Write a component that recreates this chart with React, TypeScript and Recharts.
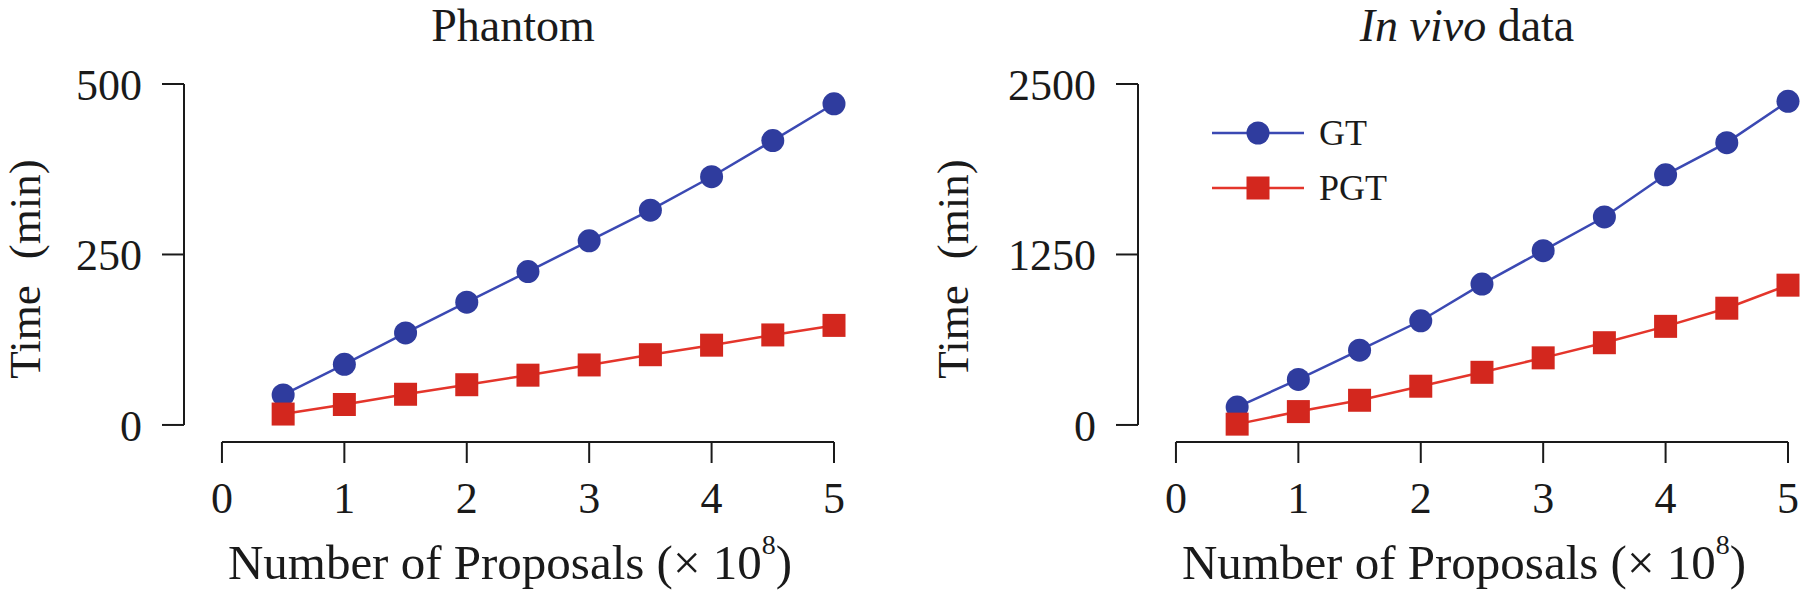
import { LineChart, Line, XAxis, YAxis, ReferenceLine, Legend } from 'recharts'

// x values, in units of 1e8 proposals
const proposals = [0.5, 1, 1.5, 2, 2.5, 3, 3.5, 4, 4.5, 5]
const xTicks = [0, 1, 2, 3, 4, 5]

// Phantom (min)
const phantomGT = [44, 89, 135, 180, 225, 270, 315, 364, 417, 471]
const phantomPGT = [16, 30, 45, 59, 73, 88, 103, 117, 132, 146]
const phantomTicks = [0, 250, 500]

// In vivo (min)
const invivoGT = [131, 334, 548, 764, 1033, 1278, 1525, 1834, 2070, 2373]
const invivoPGT = [6, 98, 181, 284, 386, 492, 603, 723, 856, 1025]
const invivoTicks = [0, 1250, 2500]

const FONT = '"Liberation Serif", "Times New Roman", Times, serif'
const INK = '#1a1a1a'
const BLUE = '#2f3c9e'
const BLUE_LINE = '#3b49b3'
const RED = '#d3271e'
const RED_LINE = '#e4352b'

const PLOT_W = 650
const X_MIN = -0.31

function circleDot(fill: string) {
  return (p: any) =>
    p.cx == null ? null : <circle key={`c${p.index}`} cx={p.cx} cy={p.cy} r={11.5} fill={fill} />
}

function squareDot(fill: string) {
  return (p: any) =>
    p.cx == null ? null : (
      <rect key={`s${p.index}`} x={p.cx - 11.5} y={p.cy - 11.5} width={23} height={23} fill={fill} />
    )
}

function LegendBox({ payload }: any) {
  return (
    <svg width={200} height={110} style={{ overflow: 'visible' }}>
      {(payload ?? []).map((e: any, i: number) => {
        const y = 23 + i * 55
        const fill = e.type === 'square' ? RED : BLUE
        return (
          <g key={e.value}>
            <line x1={0} x2={92} y1={y} y2={y} stroke={e.color} strokeWidth={2.5} />
            {e.type === 'square' ? (
              <rect x={46 - 11.5} y={y - 11.5} width={23} height={23} fill={fill} />
            ) : (
              <circle cx={46} cy={y} r={11.5} fill={fill} />
            )}
            <text x={107} y={y + 12} fontSize={36} fontFamily={FONT} fill={INK}>
              {e.value}
            </text>
          </g>
        )
      })}
    </svg>
  )
}

type PanelProps = {
  title: React.ReactNode
  gt: number[]
  pgt: number[]
  ticks: number[]
  plotLeft: number
  yAxisWidth: number
  yLabelX: number
  showLegend?: boolean
}

function Panel({ title, gt, pgt, ticks, plotLeft, yAxisWidth, yLabelX, showLegend }: PanelProps) {
  const data = proposals.map((p, i) => ({ x: p, GT: gt[i], PGT: pgt[i] }))
  const yMax = ticks[ticks.length - 1]
  const yMin = -yMax * 0.05
  const cx = plotLeft + PLOT_W / 2
  const ly = 269
  return (
    <LineChart
      width={900}
      height={593}
      data={data}
      margin={{ top: 84, right: 900 - plotLeft - PLOT_W, bottom: 91, left: plotLeft - yAxisWidth }}
      style={{ fontFamily: FONT }}
    >
      <XAxis
        dataKey="x"
        type="number"
        domain={[X_MIN, 5]}
        ticks={xTicks}
        height={60}
        axisLine={false}
        tickSize={21}
        tickMargin={19}
        tickLine={{ stroke: INK, strokeWidth: 2 }}
        tick={{ fontSize: 44, fill: INK, fontFamily: FONT }}
      />
      <YAxis
        type="number"
        domain={[yMin, yMax]}
        ticks={ticks}
        width={yAxisWidth}
        axisLine={false}
        tickSize={22}
        tickMargin={20}
        tickLine={{ stroke: INK, strokeWidth: 2 }}
        tick={{ fontSize: 44, fill: INK, fontFamily: FONT }}
      />
      <ReferenceLine
        segment={[{ x: X_MIN, y: 0 }, { x: X_MIN, y: yMax }]}
        stroke={INK}
        strokeWidth={2}
      />
      <ReferenceLine
        segment={[{ x: 0, y: yMin }, { x: 5, y: yMin }]}
        stroke={INK}
        strokeWidth={2}
      />
      <Line
        dataKey="GT"
        name="GT"
        stroke={BLUE_LINE}
        strokeWidth={2.5}
        legendType="circle"
        dot={circleDot(BLUE)}
        activeDot={false}
        isAnimationActive={false}
      />
      <Line
        dataKey="PGT"
        name="PGT"
        stroke={RED_LINE}
        strokeWidth={2.5}
        legendType="square"
        dot={squareDot(RED)}
        activeDot={false}
        isAnimationActive={false}
      />
      {showLegend && (
        <Legend
          layout="vertical"
          align="center"
          verticalAlign="middle"
          content={<LegendBox />}
          wrapperStyle={{ left: 312, top: 110, width: 200, height: 110 }}
        />
      )}
      <text x={cx + 4} y={41} textAnchor="middle" fontSize={46} fontFamily={FONT} fill={INK}>
        {title}
      </text>
      <text
        x={yLabelX}
        y={ly}
        transform={`rotate(-90, ${yLabelX}, ${ly})`}
        textAnchor="middle"
        fontSize={45}
        fontFamily={FONT}
        fill={INK}
      >
        <tspan>Time</tspan>
        <tspan dx={26}>(min)</tspan>
      </text>
      <text x={cx + 1} y={579} textAnchor="middle" fontSize={49} fontFamily={FONT} fill={INK}>
        Number of Proposals (× 10
        <tspan dy={-25} fontSize={28}>8</tspan>
        <tspan dy={25}>)</tspan>
      </text>
    </LineChart>
  )
}

export default function App() {
  return (
    <div style={{ position: 'absolute', left: 0, top: 0, width: 1800, height: 593, background: '#fff' }}>
      <div style={{ position: 'absolute', left: 0, top: 0 }}>
        <Panel
          title="Phantom"
          gt={phantomGT}
          pgt={phantomPGT}
          ticks={phantomTicks}
          plotLeft={184}
          yAxisWidth={120}
          yLabelX={40}
        />
      </div>
      <div style={{ position: 'absolute', left: 900, top: 0 }}>
        <Panel
          title={
            <>
              <tspan fontStyle="italic">In vivo</tspan> data
            </>
          }
          gt={invivoGT}
          pgt={invivoPGT}
          ticks={invivoTicks}
          plotLeft={238}
          yAxisWidth={170}
          yLabelX={68}
          showLegend
        />
      </div>
    </div>
  )
}
